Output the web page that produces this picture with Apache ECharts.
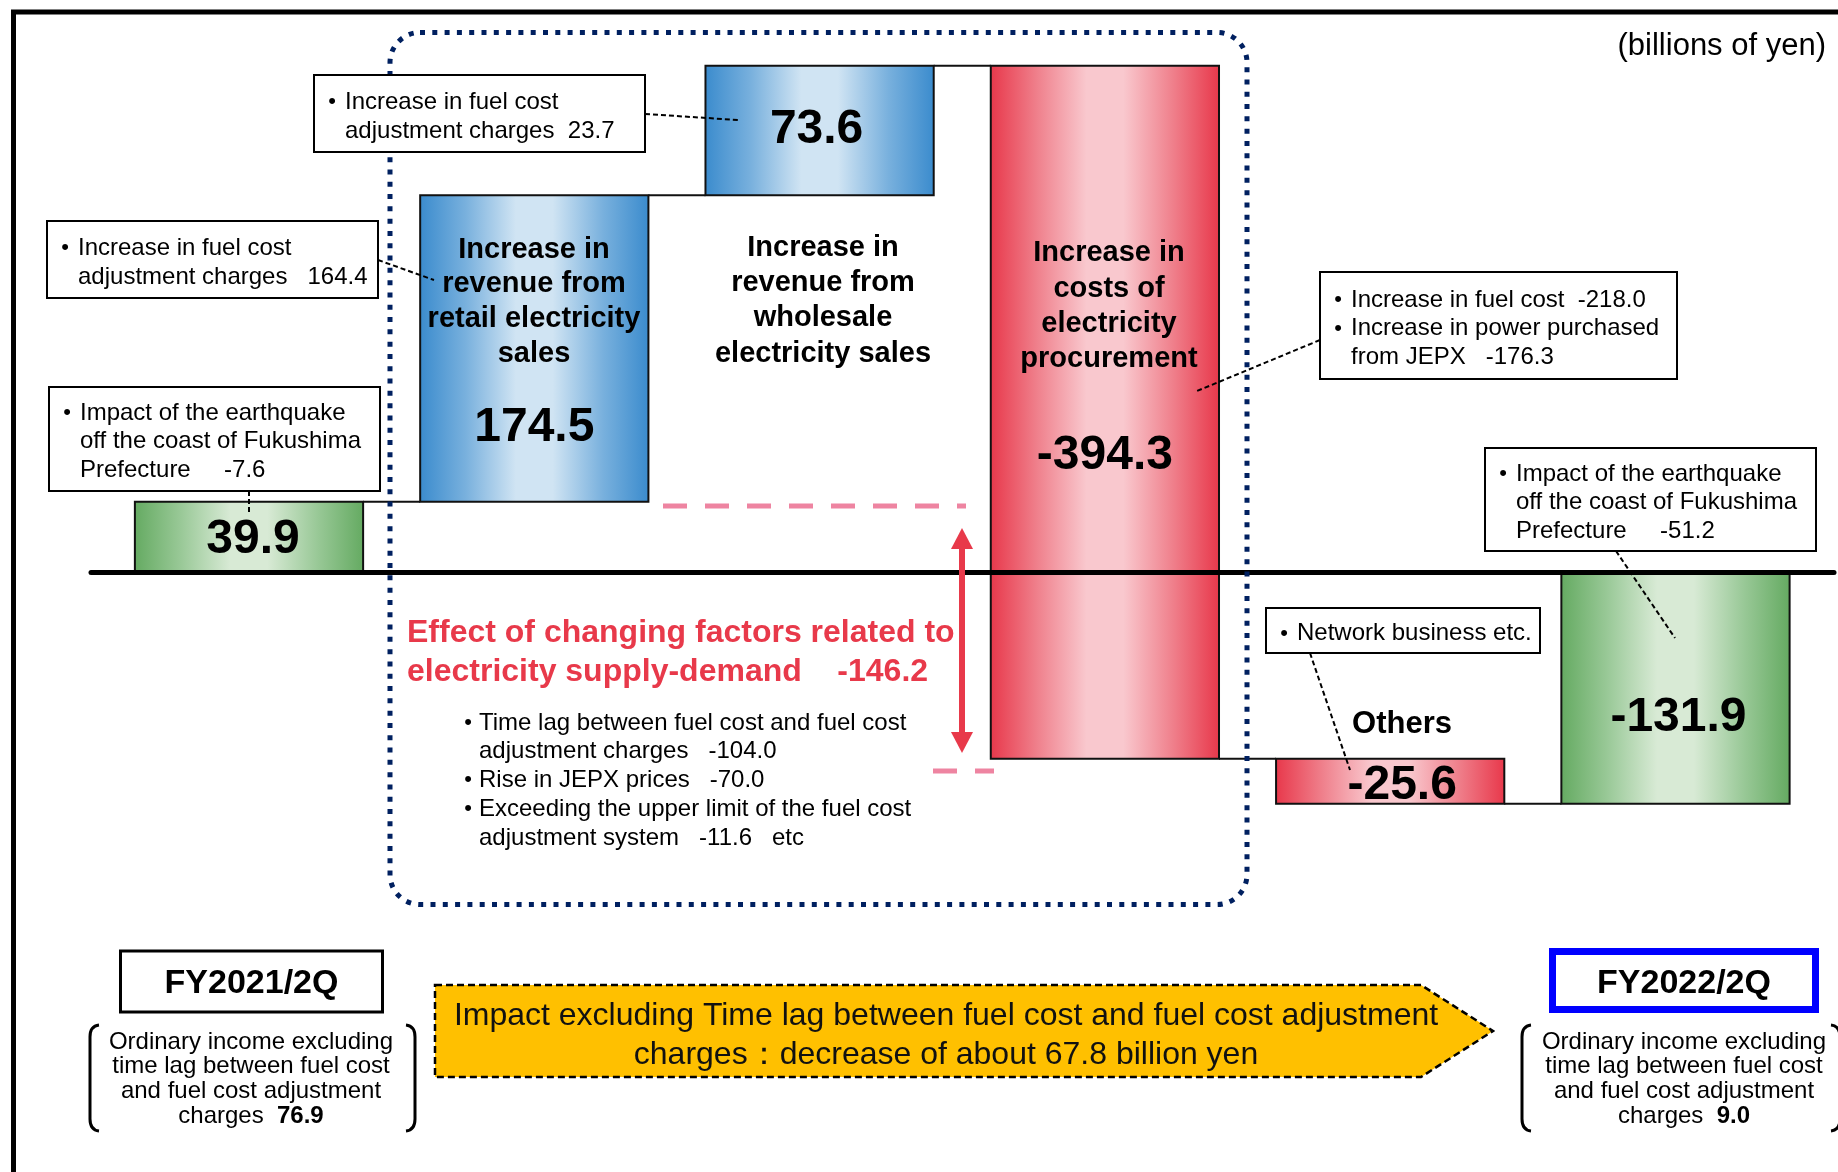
<!DOCTYPE html>
<html><head><meta charset="utf-8">
<script src="https://cdn.jsdelivr.net/npm/echarts/dist/echarts.min.js"></script>
<style>html,body{margin:0;padding:0;background:#fff}#c{width:1838px;height:1172px}</style>
</head><body><div id="c"></div>
<script>
// ---- data ----
const categories = ['FY2021/2Q', 'Retail electricity sales', 'Wholesale electricity sales', 'Electricity procurement', 'Others', 'FY2022/2Q'];
const startValue = 39.9;
const changes = [174.5, 73.6, -394.3, -25.6];
const endValue = -131.9;
const valueLabels = ['39.9', '174.5', '73.6', '-394.3', '-25.6', '-131.9'];

// ---- build waterfall from data ----
const bars = [[0, 0, startValue, 'total']];
let level = startValue;
changes.forEach((c, i) => { bars.push([i + 1, level, +(level + c).toFixed(1), c >= 0 ? 'up' : 'down']); level = +(level + c).toFixed(1); });
bars.push([categories.length - 1, 0, endValue, 'total']);

// ---- styles ----
const FONT = '"Liberation Sans", Arial, Helvetica, sans-serif';
const DY = 2;
function grad(edge, mid, light) {
  return { type: 'linear', x: 0, y: 0, x2: 1, y2: 0, colorStops: [
    { offset: 0, color: edge }, { offset: 0.2, color: mid }, { offset: 0.42, color: light },
    { offset: 0.58, color: light }, { offset: 0.8, color: mid }, { offset: 1, color: edge }] };
}
const fills = {
  up: grad('#3A8BCD', '#78B0DD', '#D0E4F3'),
  down: grad('#E8374A', '#EF7E8A', '#F9C8CE'),
  total: grad('#64AA61', '#98C896', '#D8EAD5')
};
const labelPos = [0.5, 0.748, 0.47, 0.559, 0.527, 0.617];
const labelDx = [4, 0, -3, 0, 12, 3];

function renderItem(params, api) {
  const i = api.value(0);
  const a = api.coord([i, api.value(1)]);
  const b = api.coord([i, api.value(2)]);
  const w = api.size([1, 0])[0] * 0.8;
  const top = Math.min(a[1], b[1]);
  const h = Math.abs(a[1] - b[1]);
  const kind = bars[params.dataIndex][3];
  const children = [
    { type: 'rect', shape: { x: a[0] - w / 2, y: top, width: w, height: h },
      style: { fill: fills[kind], stroke: '#111', lineWidth: 2 } },
    { type: 'text', z2: 10, style: { text: valueLabels[params.dataIndex], x: a[0] + labelDx[i], y: top + h * labelPos[i] + 3,
      fontSize: 48, fontWeight: 'bold', fontFamily: FONT, fill: '#000', align: 'center', verticalAlign: 'middle' } }
  ];
  if (params.dataIndex < bars.length - 1) {
    const nx = api.coord([i + 1, api.value(2)])[0];
    children.push({ type: 'line', shape: { x1: a[0] + w / 2, y1: b[1], x2: nx - w / 2, y2: b[1] },
      style: { stroke: '#111', lineWidth: 2 } });
  }
  return { type: 'group', children };
}

// ---- annotation helpers ----
function T(x, y, s, size, o) {
  o = o || {};
  const st = { text: s, x: x, y: y + DY, fontSize: size, fontFamily: FONT,
    fontWeight: o.bold ? 'bold' : 'normal', fill: o.color || '#000', align: o.align || 'left', verticalAlign: 'middle' };
  if (o.rich) st.rich = o.rich;
  return { type: 'text', z: 100, style: st };
}
function box(x, y, w, h, lines, y0, step) {
  const els = [{ type: 'rect', z: 100, shape: { x: x, y: y, width: w, height: h }, style: { fill: '#fff', stroke: '#000', lineWidth: 2 } }];
  lines.forEach((ln, k) => {
    const yy = y + y0 + k * step;
    if (ln[0] === '•') { els.push(T(x + 18, yy, '•', 22, { align: 'center' })); }
    els.push(T(x + 31, yy, ln.slice(1), 24));
  });
  return els;
}
function dash(x1, y1, x2, y2) {
  return { type: 'line', z: 101, shape: { x1, y1, x2, y2 }, style: { stroke: '#000', lineWidth: 2, lineDash: [5, 3] } };
}
function bracket(x, y1, y2, dir) {
  const d = 9 * dir;
  const st = { stroke: '#000', lineWidth: 3, fill: null };
  return [
    { type: 'bezierCurve', z: 100, shape: { x1: x + d, y1: y1, x2: x, y2: y1 + 12, cpx1: x, cpy1: y1 + 1 }, style: st },
    { type: 'line', z: 100, shape: { x1: x, y1: y1 + 12, x2: x, y2: y2 - 12 }, style: st },
    { type: 'bezierCurve', z: 100, shape: { x1: x, y1: y2 - 12, x2: x + d, y2: y2, cpx1: x, cpy1: y2 - 1 }, style: st }
  ];
}

const graphics = [
  // frame
  { type: 'line', z: 100, shape: { x1: 11, y1: 12, x2: 1838, y2: 12 }, style: { stroke: '#000', lineWidth: 5 } },
  { type: 'line', z: 100, shape: { x1: 13.5, y1: 10, x2: 13.5, y2: 1172 }, style: { stroke: '#000', lineWidth: 5 } },
  T(1826, 44, '(billions of yen)', 31, { align: 'right' }),
  // dotted region
  { type: 'rect', z: 90, shape: { x: 390, y: 32.5, width: 857, height: 872, r: 30 },
    style: { fill: null, stroke: '#002060', lineWidth: 5, lineDash: [5, 7.3] } },
  // bar titles
  T(534, 247.6, 'Increase in', 29, { bold: true, align: 'center' }),
  T(534, 282.2, 'revenue from', 29, { bold: true, align: 'center' }),
  T(534, 317.2, 'retail electricity', 29, { bold: true, align: 'center' }),
  T(534, 351.8, 'sales', 29, { bold: true, align: 'center' }),
  T(823, 246, 'Increase in', 29, { bold: true, align: 'center' }),
  T(823, 281, 'revenue from', 29, { bold: true, align: 'center' }),
  T(823, 316, 'wholesale', 29, { bold: true, align: 'center' }),
  T(823, 352, 'electricity sales', 29, { bold: true, align: 'center' }),
  T(1109, 251, 'Increase in', 29, { bold: true, align: 'center' }),
  T(1109, 287, 'costs of', 29, { bold: true, align: 'center' }),
  T(1109, 322, 'electricity', 29, { bold: true, align: 'center' }),
  T(1109, 357, 'procurement', 29, { bold: true, align: 'center' }),
  T(1402, 722, 'Others', 31, { bold: true, align: 'center' }),
  // callout boxes
  ...box(314, 75, 331, 77, ['•Increase in fuel cost', ' adjustment charges  23.7'], 25, 29),
  ...box(47, 221, 331, 77, ['•Increase in fuel cost', ' adjustment charges   164.4'], 25, 29),
  ...box(49, 387, 331, 104, ['•Impact of the earthquake', ' off the coast of Fukushima', ' Prefecture     -7.6'], 24, 28.5),
  ...box(1320, 272, 357, 107, ['•Increase in fuel cost  -218.0', '•Increase in power purchased', ' from JEPX   -176.3'], 26, 28.5),
  ...box(1485, 448, 331, 103, ['•Impact of the earthquake', ' off the coast of Fukushima', ' Prefecture     -51.2'], 24, 28.5),
  ...box(1266, 608, 274, 45, ['•Network business etc.'], 23.5, 28),
  dash(645, 114, 738, 120), dash(378, 260, 434, 280), dash(249, 491, 249, 515),
  dash(1320, 340, 1197, 391), dash(1616, 551, 1675, 638), dash(1310, 653, 1350, 770),
  // supply-demand effect
  { type: 'line', z: 95, shape: { x1: 663, y1: 506, x2: 966, y2: 506 }, style: { stroke: '#EE84A1', lineWidth: 5, lineDash: [24, 18] } },
  { type: 'line', z: 95, shape: { x1: 933, y1: 771, x2: 994, y2: 771 }, style: { stroke: '#EE84A1', lineWidth: 5, lineDash: [24, 18] } },
  { type: 'line', z: 100, shape: { x1: 962, y1: 545, x2: 962, y2: 736 }, style: { stroke: '#E8394A', lineWidth: 6 } },
  { type: 'polygon', z: 100, shape: { points: [[962, 528], [951, 549], [973, 549]] }, style: { fill: '#E8394A' } },
  { type: 'polygon', z: 100, shape: { points: [[962, 753], [951, 732], [973, 732]] }, style: { fill: '#E8394A' } },
  T(407, 631, 'Effect of changing factors related to', 32, { bold: true, color: '#E8394A' }),
  T(407, 670, 'electricity supply-demand    -146.2', 32, { bold: true, color: '#E8394A' }),
  T(468, 721, '•', 22, { align: 'center' }), T(479, 721, 'Time lag between fuel cost and fuel cost', 24),
  T(479, 749, 'adjustment charges   -104.0', 24),
  T(468, 778, '•', 22, { align: 'center' }), T(479, 778, 'Rise in JEPX prices   -70.0', 24),
  T(468, 807, '•', 22, { align: 'center' }), T(479, 807, 'Exceeding the upper limit of the fuel cost', 24),
  T(479, 836, 'adjustment system   -11.6   etc', 24),
  // bottom
  { type: 'rect', z: 100, shape: { x: 120.5, y: 951, width: 262, height: 61 }, style: { fill: '#fff', stroke: '#000', lineWidth: 3 } },
  T(251.5, 982, 'FY2021/2Q', 34, { bold: true, align: 'center' }),
  { type: 'rect', z: 100, shape: { x: 1552.5, y: 951.5, width: 263, height: 58 }, style: { fill: '#fff', stroke: '#0000FF', lineWidth: 7 } },
  T(1684, 982, 'FY2022/2Q', 34, { bold: true, align: 'center' }),
  ...bracket(90, 1025, 1131, 1), ...bracket(415, 1025, 1131, -1),
  ...bracket(1522, 1025, 1131, 1), ...bracket(1840, 1025, 1131, -1),
  T(251, 1040, 'Ordinary income excluding', 24, { align: 'center' }),
  T(251, 1064, 'time lag between fuel cost', 24, { align: 'center' }),
  T(251, 1089, 'and fuel cost adjustment', 24, { align: 'center' }),
  T(251, 1114, 'charges  {b|76.9}', 24, { align: 'center', rich: { b: { fontSize: 24, fontWeight: 'bold', fontFamily: FONT } } }),
  T(1684, 1040, 'Ordinary income excluding', 24, { align: 'center' }),
  T(1684, 1064, 'time lag between fuel cost', 24, { align: 'center' }),
  T(1684, 1089, 'and fuel cost adjustment', 24, { align: 'center' }),
  T(1684, 1114, 'charges  {b|9.0}', 24, { align: 'center', rich: { b: { fontSize: 24, fontWeight: 'bold', fontFamily: FONT } } }),
  { type: 'polygon', z: 100, shape: { points: [[435, 985], [1421, 985], [1493, 1031], [1421, 1077], [435, 1077]] },
    style: { fill: '#FFC000', stroke: '#000', lineWidth: 2.5, lineDash: [7, 4] } },
  T(946, 1014, 'Impact excluding Time lag between fuel cost and fuel cost adjustment', 32, { align: 'center', color: '#111' }),
  T(946, 1053, 'charges：decrease of about 67.8 billion yen', 32, { align: 'center', color: '#111' })
];

const chart = echarts.init(document.getElementById('c'), null, { renderer: 'canvas' });
chart.setOption({
  animation: false,
  backgroundColor: '#fff',
  textStyle: { fontFamily: FONT },
  grid: { left: 91, width: 1743, top: 44.7, height: 790.9 },
  xAxis: { type: 'value', min: -0.5538, max: 5.5556, z: 10,
    axisLine: { show: true, onZero: true, lineStyle: { color: '#000', width: 5 } },
    axisTick: { show: false }, axisLabel: { show: false }, splitLine: { show: false } },
  yAxis: { type: 'value', min: -150, max: 300, show: false, splitLine: { show: false } },
  series: [{ type: 'custom', name: 'Ordinary income change', clip: false, renderItem: renderItem,
    encode: { x: 0, y: [1, 2] }, data: bars.map(b => [b[0], b[1], b[2]]) }],
  graphic: graphics
});
</script>
</body></html>
